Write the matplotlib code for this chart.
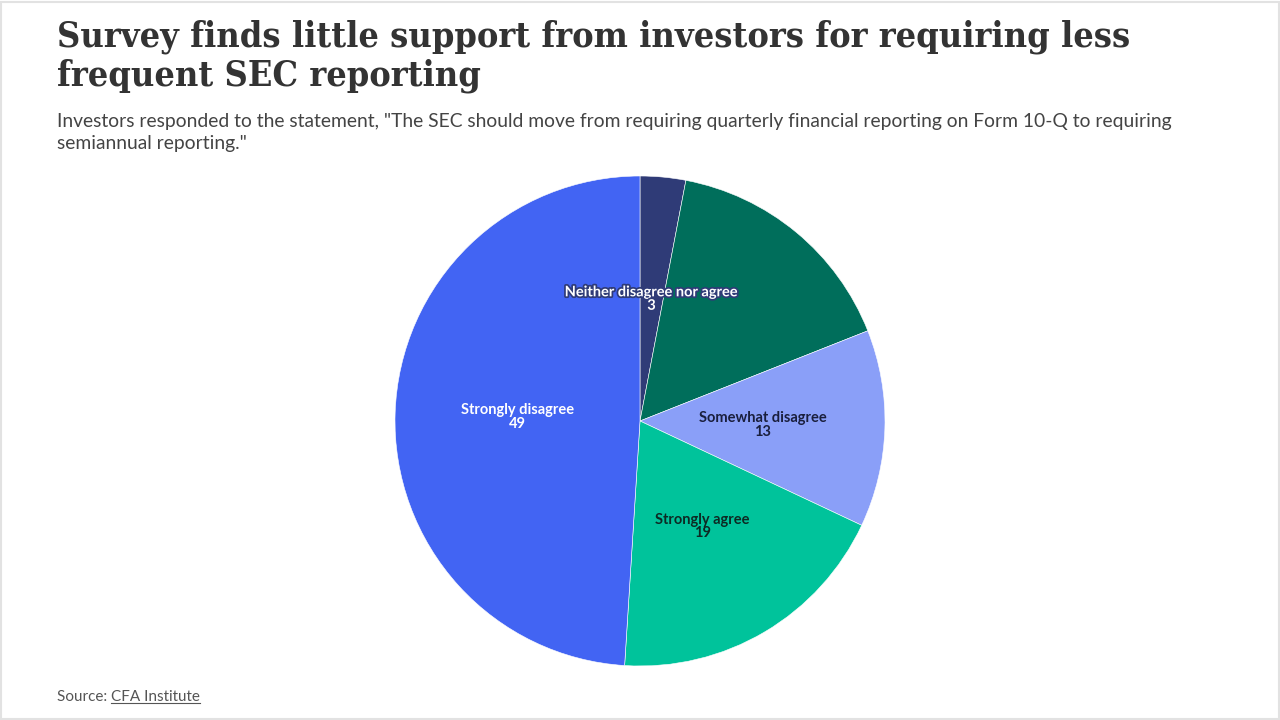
import matplotlib
matplotlib.use("Agg")
import numpy as np
import matplotlib.pyplot as plt
import matplotlib.patheffects as pe
from matplotlib.patches import Rectangle
from matplotlib.lines import Line2D

# Data
categories = ["Neither disagree nor agree", "Somewhat agree", "Somewhat disagree",
              "Strongly agree", "Strongly disagree"]
values = [3, 16, 13, 19, 49]
colors = ["#2f3b77", "#006e5b", "#8a9ff8", "#00c39b", "#4264f3"]
label_colors = ["white", None, "#1a1f3d", "#0d2a24", "white"]
show_label = [True, False, True, True, True]

title = "Survey finds little support from investors for requiring less\nfrequent SEC reporting"
subtitle = ('Investors responded to the statement, "The SEC should move from requiring quarterly financial reporting on Form 10-Q to requiring\n'
            'semiannual reporting."')

fig = plt.figure(figsize=(12.8, 7.2), dpi=100)
fig.patch.set_facecolor("white")

# light frame around the card
fig.patches.append(Rectangle((0.001, 0.001), 0.998, 0.996, transform=fig.transFigure,
                             fill=False, edgecolor="#e2e2e2", linewidth=1.5))

fig.text(57/1280, 1 - 19/720, title, ha="left", va="top", family="DejaVu Serif",
         fontstretch="condensed", fontweight="bold", fontsize=25.8, color="#333333",
         linespacing=1.2)
fig.text(57/1280, 1 - 113/720, subtitle, ha="left", va="top", family="Lato",
         fontsize=13.9, color="#444444", linespacing=1.38)

ax = fig.add_axes([395/1280, 54/720, 490/1280, 490/720])
wedges, texts = ax.pie(values, colors=colors, startangle=90, counterclock=False,
                       labels=None, wedgeprops=dict(edgecolor="white", linewidth=0.4))
ax.set_aspect("equal")
ax.set_xlim(-1, 1)
ax.set_ylim(-1, 1)

total = sum(values)
start = 90.0
for i, v in enumerate(values):
    ang = start - 360.0 * v / total / 2
    start -= 360.0 * v / total
    if not show_label[i]:
        continue
    x = 0.5 * np.cos(np.radians(ang))
    y = 0.5 * np.sin(np.radians(ang))
    t = ax.text(x, y, categories[i] + "\n" + str(v), ha="center", va="center",
                family="Lato", fontweight="bold", fontsize=10.5,
                color=label_colors[i], linespacing=0.95)
    if i == 0:
        t.set_path_effects([pe.withStroke(linewidth=2.5, foreground="#2f3b77")])

# source line
s1 = fig.text(57/1280, 1 - 697/720, "Source: ", ha="left", va="center",
              family="Lato", fontsize=11, color="#555555")
fig.canvas.draw()
bb = s1.get_window_extent()
s2 = fig.text(bb.x1 / 1280, 1 - 697/720, "CFA Institute", ha="left", va="center",
              family="Lato", fontsize=11, color="#555555")
fig.canvas.draw()
bb2 = s2.get_window_extent()
fig.lines.append(Line2D([bb2.x0 / 1280, bb2.x1 / 1280], [(bb2.y0 + 1) / 720] * 2,
                        transform=fig.transFigure, color="#555555", linewidth=0.8))

fig.savefig("out.png", dpi=100, facecolor="white")
